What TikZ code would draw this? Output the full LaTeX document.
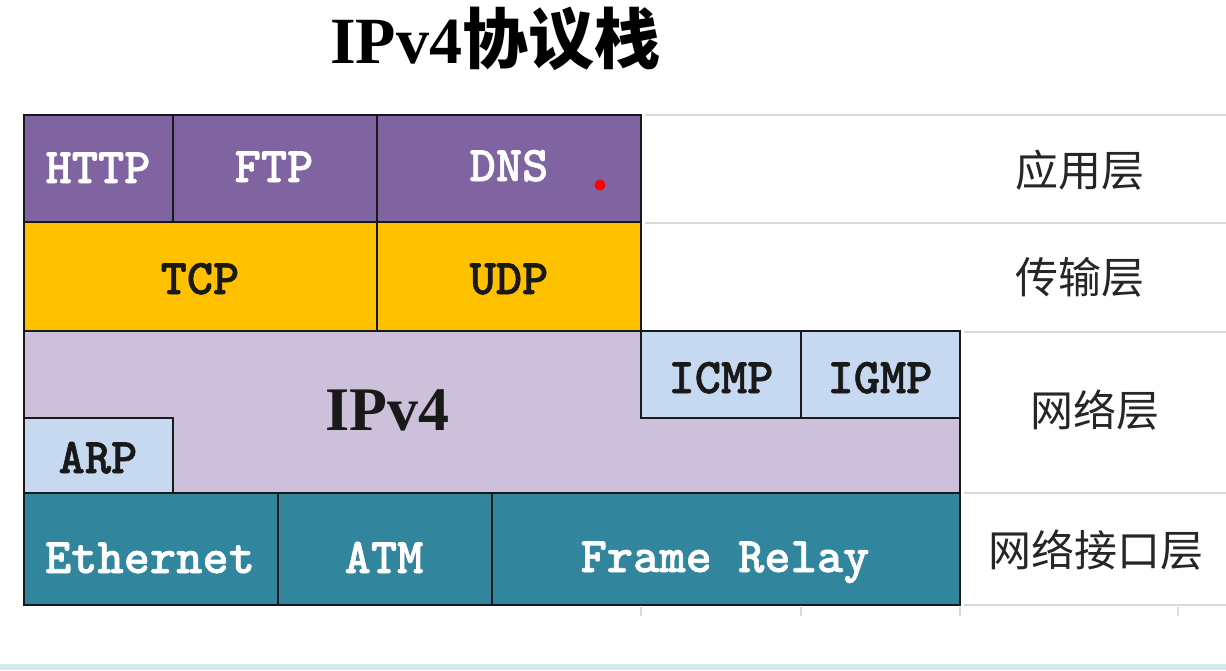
\documentclass[tikz,border=0pt]{standalone}
\usepackage{fontspec}
\setmainfont{Liberation Serif}
\newfontfamily\cjk{Noto Sans CJK SC}
\newfontfamily\labfont[FakeBold=1.2]{lmmonolt10-bold.otf}
\definecolor{apppurple}{HTML}{8064A2}
\definecolor{tgold}{HTML}{FFC000}
\definecolor{iplav}{HTML}{CCC0DA}
\definecolor{lblue}{HTML}{C6D9F1}
\definecolor{teal}{HTML}{31859C}
\definecolor{gridgray}{HTML}{D9D9D9}
\definecolor{stripblue}{HTML}{D8E8EF}
\begin{document}
\begin{tikzpicture}[x=1pt,y=-1pt,
  cell/.style={draw=black!90, line width=2pt, inner sep=0pt, anchor=center},
  lab/.style={font=\labfont\fontsize{50}{50}\selectfont, anchor=base, inner sep=0pt},
  wlab/.style={lab, text=white},
  klab/.style={lab, text=black!90},
  layer/.style={font=\cjk\fontsize{43}{43}\selectfont, anchor=center, inner sep=0pt, text=black!85},
  grid/.style={draw=gridgray, line width=2pt}
]
\useasboundingbox (0,0) rectangle (1226,670);
\fill[white] (0,0) rectangle (1226,670);
\fill[stripblue] (0,664) rectangle (1226,670);

% grid lines on the right
\coordinate (g1a) at (645,115); \coordinate (g1b) at (1226,115);
\coordinate (g2a) at (645,223); \coordinate (g2b) at (1226,223);
\coordinate (g3a) at (964,332); \coordinate (g3b) at (1226,332);
\coordinate (g4a) at (964,493); \coordinate (g4b) at (1226,493);
\coordinate (g5a) at (964,605); \coordinate (g5b) at (1226,605);
\draw[grid] (g1a) -- (g1b);
\draw[grid] (g2a) -- (g2b);
\draw[grid] (g3a) -- (g3b);
\draw[grid] (g4a) -- (g4b);
\draw[grid] (g5a) -- (g5b);
\foreach \tx in {641,801,960,1178}{
  \draw[gridgray, line width=1.2pt] (\tx,607) -- (\tx,616);
}

% title
\node[anchor=base, inner sep=0pt, font=\bfseries\fontsize{66}{66}\selectfont] (title) at (495,63) {IPv4{\cjk 协议栈}};

% application layer
\node[cell, fill=apppurple, minimum width=149pt, minimum height=107pt] (http) at (98.5,168.5) {};
\node[cell, fill=apppurple, minimum width=204pt, minimum height=107pt] (ftp) at (275,168.5) {};
\node[cell, fill=apppurple, minimum width=264pt, minimum height=107pt] (dns) at (509,168.5) {};
\node[wlab] (httpt) at (98,183) {HTTP};
\node[wlab] (ftpt) at (274,182) {FTP};
\node[wlab] (dnst) at (509,181) {DNS};
\fill[red] (600,185) circle (5.5pt);

% transport layer
\node[cell, fill=tgold, minimum width=353pt, minimum height=109pt] (tcp) at (200.5,276.5) {};
\node[cell, fill=tgold, minimum width=264pt, minimum height=109pt] (udp) at (509,276.5) {};
\node[klab] (tcpt) at (200,294) {TCP};
\node[klab] (udpt) at (509,294) {UDP};

% network layer
\node[cell, fill=iplav, minimum width=936pt, minimum height=162pt] (ip) at (492,412) {};
\node[anchor=base, inner sep=0pt, font=\bfseries\fontsize{62}{62}\selectfont, text=black!90] (ipt) at (387,430) {IPv4};
\node[cell, fill=lblue, minimum width=160pt, minimum height=87pt] (icmp) at (721,374.5) {};
\node[cell, fill=lblue, minimum width=159pt, minimum height=87pt] (igmp) at (880.5,374.5) {};
\node[cell, fill=lblue, minimum width=149pt, minimum height=75pt] (arp) at (98.5,455.5) {};
\node[klab] (icmpt) at (721,393) {ICMP};
\node[klab] (igmpt) at (880,393) {IGMP};
\node[klab] (arpt) at (98,473) {ARP};

% network interface layer
\node[cell, fill=teal, minimum width=254pt, minimum height=112pt] (eth) at (151,549) {};
\node[cell, fill=teal, minimum width=214pt, minimum height=112pt] (atm) at (385,549) {};
\node[cell, fill=teal, minimum width=468pt, minimum height=112pt] (fr) at (726,549) {};
\node[wlab] (etht) at (150,573) {Ethernet};
\node[wlab] (atmt) at (384,573) {ATM};
\node[wlab] (frt) at (725,572) {Frame Relay};

% layer names
\node[layer] (l1) at (1080,170) {应用层};
\node[layer] (l2) at (1080,277) {传输层};
\node[layer] (l3) at (1095,410) {网络层};
\node[layer] (l4) at (1096,550) {网络接口层};
\end{tikzpicture}
\end{document}
